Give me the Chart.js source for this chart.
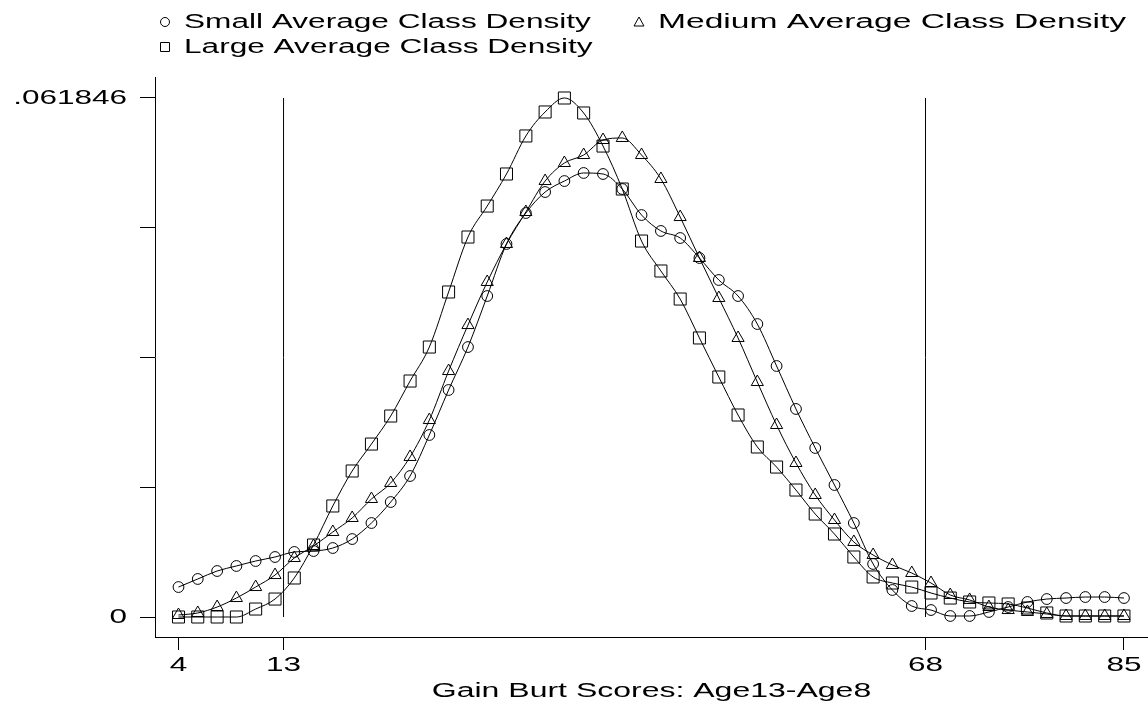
<!DOCTYPE html>
<html>
<head>
<meta charset="utf-8">
<title>Gain Burt Scores density by class size</title>
<script src="https://cdn.jsdelivr.net/npm/chart.js@4.4.1/dist/chart.umd.min.js"></script>
<style>
  html, body { margin: 0; padding: 0; background: #fff; }
  #wrap { width: 1148px; height: 705px; }
</style>
</head>
<body>
<div id="wrap"><canvas id="densityChart" width="1148" height="705"></canvas></div>
<script>
// evaluation points of the density curves
const gainScores = [4, 5.65, 7.31, 8.96, 10.61, 12.27, 13.92, 15.57, 17.22, 18.88,
  20.53, 22.18, 23.84, 25.49, 27.14, 28.80, 30.45, 32.10, 33.76, 35.41,
  37.06, 38.71, 40.37, 42.02, 43.67, 45.33, 46.98, 48.63, 50.29, 51.94,
  53.59, 55.24, 56.90, 58.55, 60.20, 61.86, 63.51, 65.16, 66.82, 68.47,
  70.12, 71.78, 73.43, 75.08, 76.73, 78.39, 80.04, 81.69, 83.35, 85];

const smallDensity = [0.00357, 0.00453, 0.00548, 0.00608, 0.00667, 0.00715, 0.00775, 0.00786, 0.00822, 0.00929,
  0.01120, 0.01370, 0.01680, 0.02169, 0.02705, 0.03217, 0.03825, 0.04445, 0.04814, 0.05064,
  0.05195, 0.05291, 0.05279, 0.05100, 0.04790, 0.04600, 0.04516, 0.04278, 0.04016, 0.03825,
  0.03491, 0.02991, 0.02479, 0.02014, 0.01573, 0.01120, 0.00632, 0.00322, 0.00131, 0.00083,
  0.00012, 0.00012, 0.00060, 0.00119, 0.00179, 0.00214, 0.00226, 0.00238, 0.00238, 0.00226];

const mediumDensity = [0.00024, 0.00048, 0.00119, 0.00226, 0.00357, 0.00500, 0.00703, 0.00846, 0.01013, 0.01180,
  0.01406, 0.01597, 0.01907, 0.02347, 0.02931, 0.03479, 0.03992, 0.04445, 0.04826, 0.05195,
  0.05410, 0.05505, 0.05684, 0.05708, 0.05505, 0.05219, 0.04766, 0.04278, 0.03801, 0.03325,
  0.02800, 0.02288, 0.01835, 0.01454, 0.01156, 0.00894, 0.00739, 0.00620, 0.00524, 0.00405,
  0.00262, 0.00203, 0.00119, 0.00083, 0.00060, 0.00036, 0.00012, 0.00012, 0.00012, 0.00012];

const largeDensity = [0, 0, 0, 0, 0.00095, 0.00214, 0.00465, 0.00858, 0.01323, 0.01740,
  0.02061, 0.02395, 0.02812, 0.03217, 0.03873, 0.04528, 0.04897, 0.05279, 0.05732, 0.06018,
  0.061846, 0.06006, 0.05612, 0.05100, 0.04480, 0.04123, 0.03789, 0.03325, 0.02860, 0.02407,
  0.02026, 0.01787, 0.01513, 0.01227, 0.00989, 0.00715, 0.00477, 0.00405, 0.00357, 0.00286,
  0.00226, 0.00179, 0.00167, 0.00155, 0.00107, 0.00048, 0.00012, 0.00012, 0.00012, 0.00012];

const seriesNames = ["Small Average Class Density", "Medium Average Class Density", "Large Average Class Density"];
const xTicks = [4, 13, 68, 85];
const yTicks = [0, 0.0154615, 0.030923, 0.0463845, 0.061846];
const yTickLabels = ["0", "", "", "", ".061846"];
const refLines = [13, 68];
const refTop = 0.061846;
const xTitle = "Gain Burt Scores: Age13-Age8";

const FONT = '"Liberation Sans", Arial, Helvetica, sans-serif';

function toPoints(ys) {
  return gainScores.map((x, i) => ({ x: x, y: ys[i] }));
}

function densitySet(label, ys, style, radius) {
  return {
    label: label,
    data: toPoints(ys),
    borderColor: "#000",
    borderWidth: 1,
    cubicInterpolationMode: "monotone",
    pointStyle: style,
    pointRadius: radius,
    pointHoverRadius: radius,
    pointBorderColor: "#000",
    pointBackgroundColor: "rgba(0,0,0,0)",
    pointBorderWidth: 1,
    fill: false
  };
}

const datasets = [
  densitySet(seriesNames[0], smallDensity, "circle", 5.4),
  densitySet(seriesNames[1], mediumDensity, "triangle", 7),
  densitySet(seriesNames[2], largeDensity, "rect", 8.5)
];
refLines.forEach(v => {
  datasets.push({
    label: "ref" + v,
    data: [{ x: v, y: 0 }, { x: v, y: refTop }],
    borderColor: "#000",
    borderWidth: 1,
    pointRadius: 0,
    fill: false
  });
});

// the original export draws its text wide, so stretch it horizontally
function wideText(ctx, text, x, y, sx, align) {
  const w = ctx.measureText(text).width * sx;
  let left = x;
  if (align === "center") left = x - w / 2;
  if (align === "right") left = x - w;
  ctx.save();
  ctx.translate(left, y);
  ctx.scale(sx, 1);
  ctx.textAlign = "left";
  ctx.fillText(text, 0, 0);
  ctx.restore();
}

function marker(ctx, style, x, y) {
  ctx.beginPath();
  if (style === "circle") {
    ctx.arc(x, y, 4.5, 0, Math.PI * 2);
  } else if (style === "rect") {
    ctx.rect(x - 4.5, y - 4.5, 9, 9);
  } else {
    ctx.moveTo(x, y - 5);
    ctx.lineTo(x + 5, y + 4);
    ctx.lineTo(x - 5, y + 4);
    ctx.closePath();
  }
  ctx.stroke();
}

const textPlugin = {
  id: "wideText",
  afterDraw(chart) {
    const ctx = chart.ctx;
    const xs = chart.scales.x;
    const ys = chart.scales.y;
    ctx.save();
    ctx.fillStyle = "#000";
    ctx.strokeStyle = "#000";
    ctx.lineWidth = 1;
    ctx.textBaseline = "middle";

    // tick labels
    ctx.font = "21px " + FONT;
    xTicks.forEach(v => {
      wideText(ctx, String(v), xs.getPixelForValue(v), 665, 1.5, "center");
    });
    yTicks.forEach((v, i) => {
      if (yTickLabels[i]) wideText(ctx, yTickLabels[i], 127, ys.getPixelForValue(v), 1.5, "right");
    });

    // legend, two columns
    ctx.font = "20px " + FONT;
    const items = [
      { x: 165, y: 22, style: "circle", text: seriesNames[0], sx: 1.58 },
      { x: 639, y: 22, style: "triangle", text: seriesNames[1], sx: 1.68 },
      { x: 165, y: 47, style: "rect", text: seriesNames[2], sx: 1.58 }
    ];
    items.forEach(it => {
      marker(ctx, it.style, it.x, it.y);
      wideText(ctx, it.text, it.x + 19, it.y, it.sx, "left");
    });

    // x axis title
    const area = chart.chartArea;
    wideText(ctx, xTitle, (area.left + area.right) / 2, 691, 1.6, "center");
    ctx.restore();
  }
};

new Chart(document.getElementById("densityChart").getContext("2d"), {
  type: "line",
  data: { datasets: datasets },
  options: {
    responsive: false,
    animation: false,
    devicePixelRatio: 1,
    layout: { autoPadding: false, padding: { top: 77, left: 0, right: 0, bottom: 0 } },
    plugins: {
      legend: { display: false },
      tooltip: { enabled: false }
    },
    scales: {
      x: {
        type: "linear",
        min: 1.987,
        max: 87.06,
        afterBuildTicks: s => { s.ticks = xTicks.map(v => ({ value: v })); },
        afterFit: s => {
          s.height = 68;
          s.paddingLeft = 0;
          s.paddingRight = 0;
        },
        ticks: { display: false },
        grid: { drawOnChartArea: false, tickLength: 13, tickColor: "#000", color: "#000" },
        border: { display: true, color: "#000", width: 1 }
      },
      y: {
        type: "linear",
        min: -0.002383,
        max: 0.064348,
        afterBuildTicks: s => { s.ticks = yTicks.map(v => ({ value: v })); },
        afterFit: s => {
          s.width = 155;
          s.paddingTop = 0;
          s.paddingBottom = 0;
        },
        ticks: { display: false },
        grid: { drawOnChartArea: false, tickLength: 15, tickColor: "#000", color: "#000" },
        border: { display: true, color: "#000", width: 1 }
      }
    }
  },
  plugins: [textPlugin]
});
</script>
</body>
</html>
